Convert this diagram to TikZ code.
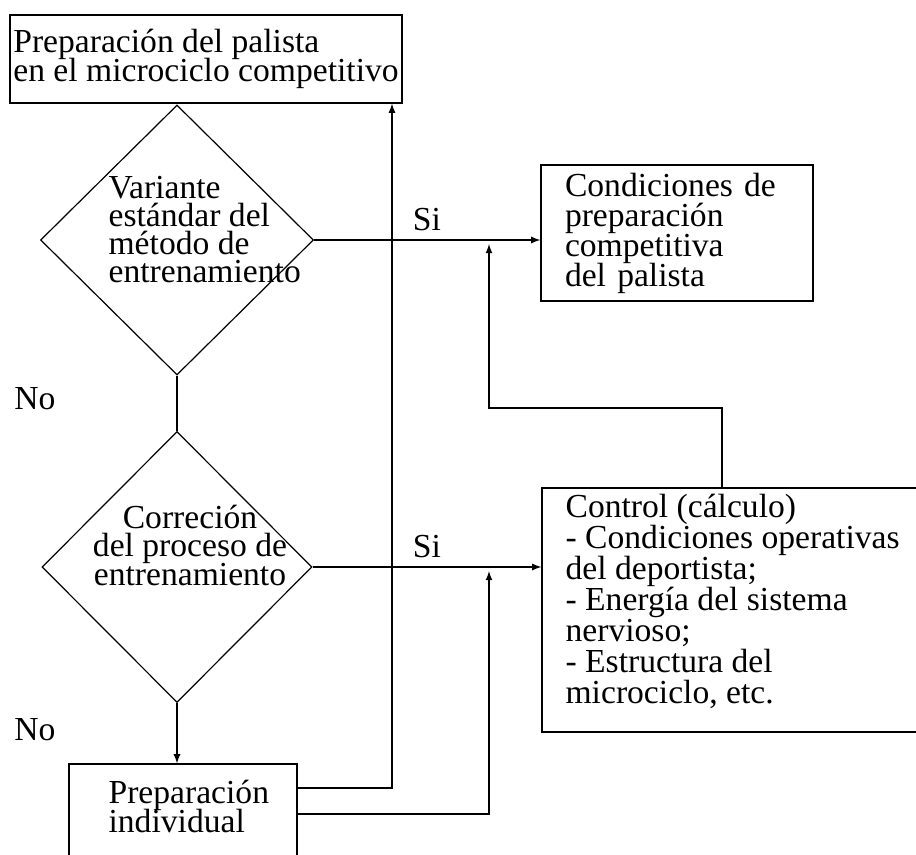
\documentclass[tikz,border=0pt]{standalone}
\usepackage{fontspec}
\setmainfont{Liberation Serif}
\usetikzlibrary{shapes.geometric}
\newcommand{\flowfont}[1][15pt]{\fontsize{16.8pt}{#1}\selectfont\lineskiplimit=-20pt\relax}

\begin{document}
\begin{tikzpicture}[x=0.5pt,y=-0.5pt,>=latex,line width=0.6pt]
  \useasboundingbox (0,0) rectangle (916,855);
  \clip (0,0) rectangle (916,855);
  \begin{scope}[every node/.style={draw,rectangle,inner sep=0pt,align=left,font=\flowfont},
      decision/.style={diamond,draw,inner sep=0pt}]
    \node[minimum width=196pt,minimum height=44pt,font={\flowfont[14.25pt]}] (prep) at (206,59) {Preparación del palista\\en el microciclo competitivo};
    \node[decision,minimum width=136.5pt,minimum height=135pt] (std) at (177,240) {};
    \node[decision,minimum width=135pt,minimum height=135.5pt] (corr) at (177,567) {};
    \node[minimum width=136pt,minimum height=68pt,text width=112pt] (cond) at (677,233) {Condiciones de\\preparación\\competitiva\\del palista};
    \node[minimum width=199pt,minimum height=122pt] (ctrl) at (741,610) {};
    \node[minimum width=114pt,minimum height=60pt] (indiv) at (183,824) {};
  \end{scope}
  \begin{scope}[every node/.style={inner sep=0pt,align=left,font=\flowfont}]
    \node[anchor=west,font={\flowfont[14pt]}] (stdtxt) at (108,230) {Variante\\estándar del\\método de\\entrenamiento};
    \node[align=center,font={\flowfont[14.25pt]}] (corrtxt) at (190,545) {Correción\\del proceso de\\entrenamiento};
    \node[anchor=west,font={\flowfont[15.5pt]}] (ctrltxt) at (565,601) {Control (cálculo)\\- Condiciones operativas\\del deportista;\\- Energía del sistema\\nervioso;\\- Estructura del\\microciclo, etc.};
    \node[anchor=west,font={\flowfont[14.5pt]}] (indivtxt) at (108,806) {Preparación\\individual};
    \node (si1) at (427,220) {Si};
    \node (si2) at (427,547) {Si};
    \node (no1) at (35,399) {No};
    \node (no2) at (35,730) {No};
  \end{scope}
  \begin{scope}[->]
    \coordinate (j1) at (392,788);
    \coordinate (j2) at (489,814);
    \coordinate (j3) at (489,408);
    \draw (std.east) -- (std.east -| cond.west);
    \draw (corr.east) -- (corr.east -| ctrl.west);
    \draw[-] (std.south) -- (corr.north);
    \draw (corr.south) -- (corr.south |- indiv.north);
    \draw ([yshift=18pt]indiv.east) -- (j1) -- (j1 |- prep.south);
    \draw[shorten >=2pt] ([yshift=5pt]indiv.east) -- (j2) -- (j2 |- corr.east);
    \draw[shorten >=2pt] ([xshift=-9.5pt]ctrl.north) |- (j3) -- (j3 |- std.east);
  \end{scope}
\end{tikzpicture}
\end{document}
